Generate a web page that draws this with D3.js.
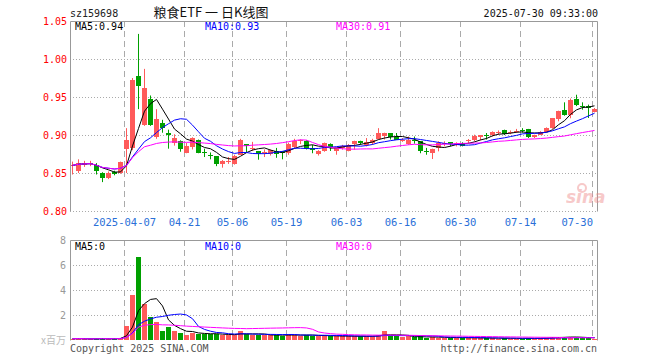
<!DOCTYPE html>
<html><head><meta charset="utf-8">
<script src="https://cdn.jsdelivr.net/npm/d3@7/dist/d3.min.js"></script>
<style>
html,body{margin:0;padding:0;background:#fff;}
svg{display:block;}
text{font-family:"DejaVu Sans Mono",monospace;}
</style></head>
<body>
<svg id="chart" width="660" height="360"></svg>
<script>
// ---------- data ----------
const dates = ["03-24","03-25","03-26","03-27","03-28","03-31","04-01","04-02","04-03","04-07",
"04-08","04-09","04-10","04-11","04-14","04-15","04-16","04-17","04-18","04-21",
"04-22","04-23","04-24","04-25","04-28","04-29","04-30","05-06","05-07","05-08",
"05-09","05-12","05-13","05-14","05-15","05-16","05-19","05-20","05-21","05-22",
"05-23","05-26","05-27","05-28","05-29","05-30","06-03","06-04","06-05","06-06",
"06-09","06-10","06-11","06-12","06-13","06-16","06-17","06-18","06-19","06-20",
"06-23","06-24","06-25","06-26","06-27","06-30","07-01","07-02","07-03","07-04",
"07-07","07-08","07-09","07-10","07-11","07-14","07-15","07-16","07-17","07-18",
"07-21","07-22","07-23","07-24","07-25","07-28","07-29","07-30"];
const opens = [0.859,0.852,0.860,0.862,0.860,0.850,0.843,0.851,0.850,0.881,
0.883,0.978,0.913,0.947,0.897,0.916,0.903,0.890,0.892,0.877,
0.884,0.894,0.878,0.874,0.872,0.862,0.865,0.862,0.874,0.888,
0.882,0.8785,0.876,0.875,0.879,0.879,0.876,0.884,0.893,0.8925,
0.883,0.875,0.8794,0.888,0.8785,0.883,0.8794,0.888,0.8925,0.8864,
0.8895,0.895,0.898,0.902,0.898,0.8935,0.8886,0.8935,0.892,0.879,
0.8763,0.8829,0.889,0.8904,0.8873,0.8895,0.8925,0.8939,0.898,0.8995,
0.900,0.9035,0.907,0.9035,0.9045,0.9065,0.908,0.8974,0.9004,0.9044,
0.9092,0.9202,0.9333,0.926,0.947,0.9379,0.9377,0.9311];
const highs = [0.865,0.868,0.866,0.866,0.863,0.851,0.852,0.853,0.865,0.909,
0.975,1.033,0.987,0.952,0.934,0.920,0.907,0.901,0.893,0.8895,
0.897,0.894,0.882,0.877,0.872,0.867,0.871,0.874,0.895,0.888,
0.891,0.879,0.881,0.881,0.883,0.879,0.890,0.895,0.8943,0.893,
0.887,0.880,0.890,0.889,0.883,0.887,0.888,0.8925,0.8925,0.896,
0.895,0.909,0.903,0.902,0.9026,0.896,0.898,0.898,0.892,0.883,
0.882,0.8917,0.8917,0.8904,0.8904,0.8904,0.8947,0.9004,0.900,0.9026,
0.9048,0.906,0.907,0.906,0.908,0.909,0.908,0.9004,0.905,0.910,
0.9224,0.932,0.943,0.948,0.953,0.943,0.940,0.9355];
const lows = [0.848,0.850,0.858,0.859,0.848,0.838,0.842,0.847,0.849,0.850,
0.880,0.934,0.912,0.912,0.895,0.903,0.882,0.886,0.878,0.876,
0.881,0.876,0.871,0.868,0.859,0.857,0.862,0.861,0.874,0.877,
0.879,0.8675,0.871,0.873,0.870,0.868,0.874,0.883,0.888,0.881,
0.876,0.873,0.878,0.879,0.874,0.8807,0.8785,0.8807,0.887,0.885,
0.887,0.894,0.894,0.894,0.894,0.891,0.887,0.8886,0.876,0.874,
0.8684,0.8785,0.885,0.885,0.885,0.885,0.8895,0.8917,0.893,0.894,
0.898,0.900,0.900,0.901,0.9026,0.903,0.896,0.896,0.900,0.904,
0.908,0.918,0.9254,0.922,0.938,0.9333,0.9224,0.9298];
const closes = [0.860,0.863,0.863,0.863,0.852,0.843,0.850,0.848,0.864,0.893,
0.973,0.965,0.962,0.913,0.921,0.909,0.900,0.896,0.882,0.886,
0.896,0.877,0.877,0.8735,0.862,0.866,0.866,0.872,0.894,0.886,
0.883,0.875,0.877,0.880,0.8755,0.876,0.888,0.892,0.8935,0.882,
0.880,0.879,0.890,0.883,0.883,0.886,0.887,0.8925,0.890,0.8908,
0.894,0.9026,0.9026,0.897,0.894,0.894,0.8939,0.893,0.8785,0.8785,
0.8816,0.8895,0.8895,0.8873,0.8895,0.886,0.893,0.899,0.900,0.899,
0.9035,0.904,0.9015,0.904,0.905,0.906,0.898,0.9004,0.9044,0.9092,
0.9224,0.9311,0.9268,0.946,0.939,0.9377,0.9346,0.9346];
// volume, unit: million (百万)
const volumes = [0.10,0.12,0.08,0.07,0.10,0.14,0.09,0.10,0.20,1.15,
3.63,6.67,2.90,1.87,1.47,0.72,1.08,0.70,0.58,0.43,
0.60,0.52,0.50,0.45,0.45,0.42,0.40,0.42,0.75,0.45,
0.40,0.42,0.38,0.40,0.38,0.36,0.45,0.42,0.35,0.40,
0.35,0.30,0.38,0.30,0.32,0.28,0.30,0.32,0.28,0.30,
0.30,0.43,0.75,0.30,0.28,0.25,0.28,0.22,0.30,0.20,
0.22,0.20,0.18,0.18,0.18,0.20,0.15,0.18,0.15,0.15,
0.15,0.12,0.15,0.12,0.12,0.12,0.15,0.12,0.15,0.18,
0.27,0.27,0.20,0.25,0.20,0.18,0.15,0.12];
const priceTicks = [0.80,0.85,0.90,0.95,1.00,1.05];
const volTicks = [2,4,6,8];
const dateTicks = ["04-07","04-21","05-06","05-19","06-03","06-16","06-30","07-14","07-30"];
const dateTickLabels = ["2025-04-07","04-21","05-06","05-19","06-03","06-16","06-30","07-14","07-30"];
const maLabelsPrice = ["MA5:0.94","MA10:0.93","MA30:0.91"];
const maLabelsVol = ["MA5:0","MA10:0","MA30:0"];

// ---------- setup ----------
const RED = "#ff5a5a", GREEN = "#00a000";
const C_MA5 = "#000000", C_MA10 = "#0000ff", C_MA30 = "#ff00ff";
const svg = d3.select("#chart");
const L = 70, R = 597;
const P_TOP = 21, P_BOT = 211, V_TOP = 240, V_BOT = 340;

const data = dates.map((d,i)=>({d, o:opens[i], h:highs[i], l:lows[i], c:closes[i], v:volumes[i]}));

const x = d3.scaleBand().domain(dates).range([69, 597]).padding(0);
const cx = d => x(d) + 3.5;
const y = d3.scaleLinear().domain([0.80, 1.05]).range([P_BOT, P_TOP]);
const yv = d3.scaleLinear().domain([0, 8]).range([V_BOT, V_TOP]);

function ma(arr, n){
  return arr.map((_,i)=>{
    const s = Math.max(0, i-n+1);
    const w = arr.slice(s, i+1);
    return d3.mean(w);
  });
}

// ---------- frames & grids ----------
const grid = svg.append("g");
// horizontal dotted gridlines (price)
grid.selectAll(".hp").data(priceTicks.filter(t=>t>0.801 && t<1.049)).join("line")
  .attr("x1", L).attr("x2", R)
  .attr("y1", d=>Math.round(y(d))+0.5).attr("y2", d=>Math.round(y(d))+0.5)
  .attr("stroke","#aaa").attr("stroke-dasharray","1,2");
grid.selectAll(".hv").data(volTicks.filter(t=>t<8)).join("line")
  .attr("x1", L).attr("x2", R)
  .attr("y1", d=>Math.round(yv(d))+0.5).attr("y2", d=>Math.round(yv(d))+0.5)
  .attr("stroke","#aaa").attr("stroke-dasharray","1,2");
// vertical dashed lines
[[P_TOP,P_BOT],[V_TOP,V_BOT]].forEach(([t,b])=>{
  grid.append("g").selectAll("line").data(dateTicks).join("line")
    .attr("x1", d=>x(d)+1.5).attr("x2", d=>x(d)+1.5)
    .attr("y1", t).attr("y2", b)
    .attr("stroke","#aaa").attr("stroke-dasharray","6,4");
});

// clip paths
const defs = svg.append("defs");
defs.append("clipPath").attr("id","cp").append("rect").attr("x",L).attr("y",P_TOP).attr("width",R-L).attr("height",P_BOT-P_TOP);
defs.append("clipPath").attr("id","cv").append("rect").attr("x",L).attr("y",V_TOP).attr("width",R-L).attr("height",V_BOT-V_TOP+1);

// ---------- price candles ----------
const gp = svg.append("g").attr("clip-path","url(#cp)");
const col = d => d.c >= d.o ? RED : GREEN;
gp.selectAll(".wick").data(data).join("line")
  .attr("x1", d=>cx(d.d)).attr("x2", d=>cx(d.d))
  .attr("y1", d=>y(d.h)).attr("y2", d=>y(d.l))
  .attr("stroke", col).attr("stroke-width",1);
gp.selectAll(".body").data(data).join("rect")
  .attr("x", d=>x(d.d)+1).attr("width",5)
  .attr("y", d=>Math.round(y(Math.max(d.o,d.c))))
  .attr("height", d=>Math.max(1, Math.round(Math.abs(y(d.o)-y(d.c)))))
  .attr("fill", col);

const line = d3.line().x((d,i)=>cx(dates[i])).y(d=>y(d));
[[5,C_MA5],[10,C_MA10],[30,C_MA30]].forEach(([n,c])=>{
  gp.append("path").datum(ma(closes,n)).attr("d", line)
    .attr("fill","none").attr("stroke",c).attr("stroke-width",1);
});

// ---------- volume bars ----------
const gv = svg.append("g").attr("clip-path","url(#cv)");
gv.selectAll(".vb").data(data).join("rect")
  .attr("x", d=>x(d.d)+1).attr("width",5)
  .attr("y", d=>Math.round(yv(d.v)))
  .attr("height", d=>Math.max(1, V_BOT - Math.round(yv(d.v))))
  .attr("fill", col);
const vline = d3.line().x((d,i)=>cx(dates[i])).y(d=>yv(d));
[[5,C_MA5],[10,C_MA10],[30,C_MA30]].forEach(([n,c])=>{
  gv.append("path").datum(ma(volumes,n)).attr("d", vline)
    .attr("fill","none").attr("stroke",c).attr("stroke-width",1);
});

// frames
svg.append("path").attr("d", `M${L+0.5},${P_BOT+0.5}V${P_TOP+0.5}H${R+0.5}V${P_BOT+0.5}`)
  .attr("fill","none").attr("stroke","#999");
svg.append("line").attr("x1",L).attr("x2",R+1).attr("y1",P_BOT+0.5).attr("y2",P_BOT+0.5).attr("stroke","#aaa").attr("stroke-dasharray","1,2");
svg.append("path").attr("d", `M${L+0.5},${V_BOT+0.5}V${V_TOP+0.5}H${R+0.5}V${V_BOT+0.5}`)
  .attr("fill","none").attr("stroke","#999");

// ---------- axes labels ----------
svg.append("g").selectAll("text").data(priceTicks).join("text")
  .attr("x", 67).attr("y", d=>y(d)+4)
  .attr("text-anchor","end").attr("font-size",10).attr("fill","#ff0000")
  .text(d=>d.toFixed(2));
svg.append("g").selectAll("text").data(volTicks).join("text")
  .attr("x", 66).attr("y", d=>yv(d)+4)
  .attr("text-anchor","end").attr("font-size",10).attr("fill","#999")
  .text(d=>d);
svg.append("text").attr("x",66).attr("y",344).attr("text-anchor","end")
  .attr("font-size",10).attr("fill","#bbb").style("font-family","'Noto Sans CJK SC',sans-serif").text("x百万");

svg.append("g").selectAll("text").data(dateTicks).join("text")
  .attr("x", (d,i)=> i===dateTicks.length-1 ? R-4 : x(d)+1.5)
  .attr("y", 226)
  .attr("text-anchor", (d,i)=> i===dateTicks.length-1 ? "end" : "middle")
  .attr("font-size",10.5).attr("fill","#2a6fd8")
  .text((d,i)=>dateTickLabels[i]);

// MA legends
const maX = [75, 205, 336];
const maC = [C_MA5, C_MA10, C_MA30];
maLabelsPrice.forEach((t,i)=>svg.append("text").attr("x",maX[i]).attr("y",30).attr("font-size",10).attr("fill",maC[i]).text(t));
maLabelsVol.forEach((t,i)=>svg.append("text").attr("x",maX[i]).attr("y",250).attr("font-size",10).attr("fill",maC[i]).text(t));

// header
svg.append("text").attr("x",70).attr("y",17).attr("font-size",10).attr("fill","#222").text("sz159698");
svg.append("text").attr("x",211).attr("y",17).attr("text-anchor","middle").attr("font-size",13)
  .attr("fill","#111").style("font-family","'Noto Sans CJK SC',sans-serif").text("粮食ETF 一 日K线图");
svg.append("text").attr("x",598).attr("y",17).attr("text-anchor","end").attr("font-size",10).attr("fill","#111").text("2025-07-30 09:33:00");

// footer
svg.append("text").attr("x",70).attr("y",352).attr("font-size",10).attr("fill","#555").text("Copyright 2025 SINA.COM");
svg.append("text").attr("x",597).attr("y",352).attr("text-anchor","end").attr("font-size",10).attr("fill","#555").text("http://finance.sina.com.cn");

// watermark
const wm = svg.append("g").attr("opacity",0.45);
wm.append("text").attr("x",566).attr("y",203).attr("font-size",17).attr("font-weight","bold").attr("font-style","italic")
  .attr("fill","#e88").style("font-family","'DejaVu Sans',sans-serif").text("sina");
wm.append("circle").attr("cx",582).attr("cy",188).attr("r",4).attr("fill","none").attr("stroke","#e88").attr("stroke-width",2);
</script>
</body></html>
